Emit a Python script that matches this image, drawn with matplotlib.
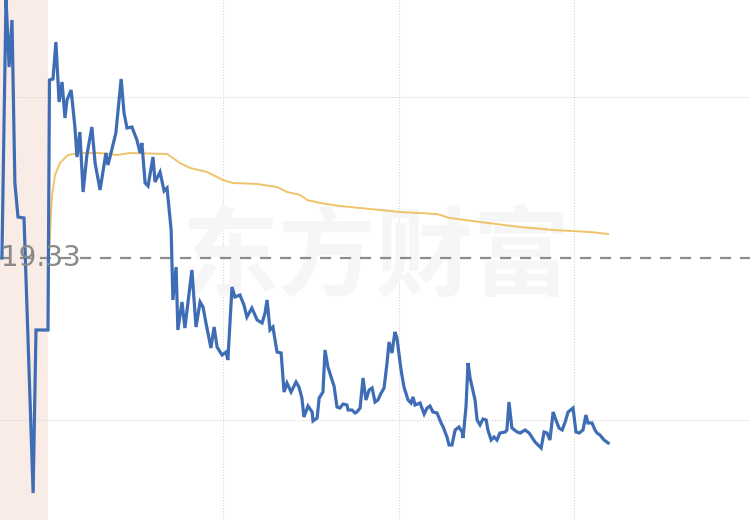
import matplotlib
matplotlib.use("Agg")
import matplotlib.pyplot as plt

# 昨收
prev_close = 19.33

# 集合竞价 (9:15-9:25, 分钟)
auction_t = [0.4, 1.25, 1.9, 2.5, 3.1, 3.75, 5.0, 6.9, 7.5, 10.0]
auction_p = [19.33, 19.85, 19.712, 19.806, 19.48, 19.412, 19.41, 18.86, 19.186, 19.186]

# 连续竞价 (分钟, 从9:30起, 午休合并)
t_min = [0.5, 1.7, 2.7, 3.8, 4.8, 5.8, 6.5, 7.9, 9.2, 9.9,
         10.9, 12.0, 13.3, 15.0, 16.1, 17.8, 19.8, 20.5, 21.2, 23.2,
         25.0, 26.0, 27.0, 28.7, 30.4, 31.5, 32.1, 33.2, 34.2, 35.9,
         36.6, 38.3, 39.7, 40.7, 42.1, 42.7, 43.8, 44.4, 45.8, 46.8,
         49.2, 50.6, 52.0, 53.0, 54.0, 55.7, 56.8, 57.8, 59.5, 60.9,
         61.5, 62.9, 63.9, 65.6, 67.0, 68.0, 69.7, 71.5, 73.2, 74.2,
         74.9, 75.9, 76.9, 78.3, 79.7, 80.7, 81.7, 83.1, 84.8, 85.8,
         86.8, 87.5, 88.9, 90.3, 90.6, 92.0, 92.7, 94.0, 94.7, 95.7,
         97.1, 97.8, 98.8, 99.8, 100.9, 102.2, 102.6, 103.9, 105.0, 105.6,
         106.7, 107.7, 108.7, 109.8, 110.8, 111.8, 112.8, 113.9, 114.9, 115.9,
         116.6, 117.6, 118.6, 119.3, 120.7, 121.7, 123.1, 124.1, 124.8, 125.5,
         127.2, 128.6, 129.6, 130.6, 131.6, 133.0, 134.4, 135.1, 136.4, 137.1,
         138.1, 139.2, 140.5, 141.6, 141.9, 142.9, 143.6, 144.3, 146.0, 146.7,
         147.7, 148.7, 149.8, 150.4, 151.5, 152.5, 153.5, 154.5, 156.3, 156.9,
         157.6, 158.6, 160.4, 161.4, 163.1, 164.5, 166.5, 168.6, 169.6, 170.6,
         171.6, 172.7, 173.4, 174.7, 175.8, 176.8, 177.8, 179.5, 180.5, 181.6,
         182.9, 183.9, 184.6, 186.0, 187.0, 187.7, 188.7, 190.1, 191.5]
price = [19.686, 19.688, 19.762, 19.642, 19.682, 19.61, 19.646, 19.666, 19.592, 19.532,
         19.582, 19.462, 19.536, 19.592, 19.52, 19.466, 19.54, 19.516, 19.532, 19.58,
         19.688, 19.62, 19.59, 19.592, 19.566, 19.54, 19.56, 19.48, 19.474, 19.532,
         19.482, 19.502, 19.464, 19.47, 19.386, 19.246, 19.312, 19.186, 19.242, 19.19,
         19.306, 19.192, 19.242, 19.232, 19.2, 19.15, 19.192, 19.152, 19.136, 19.142,
         19.126, 19.272, 19.252, 19.256, 19.236, 19.212, 19.23, 19.206, 19.2, 19.22,
         19.246, 19.186, 19.192, 19.142, 19.14, 19.062, 19.08, 19.062, 19.082, 19.072,
         19.05, 19.012, 19.034, 19.022, 19.004, 19.01, 19.05, 19.062, 19.146, 19.112,
         19.086, 19.074, 19.032, 19.03, 19.038, 19.036, 19.026, 19.026, 19.02, 19.022,
         19.03, 19.09, 19.046, 19.066, 19.07, 19.042, 19.046, 19.06, 19.07, 19.12,
         19.162, 19.14, 19.182, 19.17, 19.106, 19.072, 19.046, 19.04, 19.052, 19.036,
         19.04, 19.018, 19.03, 19.034, 19.022, 19.02, 19.0, 18.992, 18.972, 18.956,
         18.956, 18.986, 18.992, 18.982, 18.97, 19.032, 19.12, 19.09, 19.046, 19.006,
         18.996, 19.008, 19.006, 18.986, 18.966, 18.972, 18.966, 18.98, 18.982, 18.986,
         19.042, 18.99, 18.982, 18.98, 18.986, 18.98, 18.962, 18.95, 18.982, 18.98,
         18.966, 19.022, 19.01, 18.99, 18.986, 19.002, 19.022, 19.03, 18.982, 18.98,
         18.986, 19.016, 19.0, 19.0, 18.986, 18.98, 18.976, 18.966, 18.96]

# 均价
avg_t = [0.5, 1.0, 1.4, 2.4, 4.1, 6.8, 10.9, 17.8, 23.6, 28.0,
         40.7, 42.7, 45.1, 48.6, 54.4, 59.8, 63.3, 71.5, 78.3, 81.7,
         86.2, 88.6, 93.0, 99.8, 110.1, 120.4, 133.0, 137.4, 147.7, 161.4,
         172.7, 185.3, 191.5]
avg_p = [19.346, 19.416, 19.456, 19.496, 19.52, 19.536, 19.54, 19.54, 19.536, 19.54,
         19.538, 19.53, 19.52, 19.51, 19.502, 19.486, 19.48, 19.478, 19.472, 19.462,
         19.456, 19.446, 19.44, 19.434, 19.428, 19.422, 19.418, 19.41, 19.402, 19.392,
         19.386, 19.382, 19.378]

AUC_LEFT = -16.41  # 竞价区宽度 (坐标单位)
auction_x = [AUC_LEFT + t * (0 - AUC_LEFT) / 10 for t in auction_t]

fig = plt.figure(figsize=(7.5, 5.2), dpi=100)
ax = fig.add_axes([0, 0, 1, 1])
ax.set_xlim(AUC_LEFT, 240)
ax.set_ylim(prev_close - 0.524, prev_close + 0.516)
ax.axis('off')

ax.axvspan(AUC_LEFT, 0, color='#f9ece7', zorder=0, lw=0)

for v in [60, 120, 180]:
    ax.axvline(v, color='#d4d4d4', lw=0.8, ls=(0, (1, 1.5)), zorder=1)
for h in [prev_close + 0.322, prev_close - 0.324]:
    ax.axhline(h, color='#d4d4d4', lw=0.8, ls=(0, (1, 1.5)), zorder=1)

ax.text(112, prev_close - 0.005, '东方财富', fontsize=70, fontweight='bold',
        family=['Noto Sans CJK SC', 'DejaVu Sans'], color='#f6f6f6',
        ha='center', va='center', zorder=1)

ax.axhline(prev_close, color='#8c8c8c', lw=1.6, ls=(0, (5, 4)), zorder=2)

ax.plot(avg_t, avg_p, color='#f0c36a', lw=1.4, zorder=3)
ax.plot(auction_x + t_min, auction_p + price, color='#3e6db5', lw=2.3,
        solid_joinstyle='miter', zorder=4)

ax.text(AUC_LEFT + 0.3, prev_close, '19.33', fontsize=20, color='#8a8a8a',
        family=['DejaVu Sans'], ha='left', va='center', zorder=5)

fig.savefig('out.png', dpi=100)
